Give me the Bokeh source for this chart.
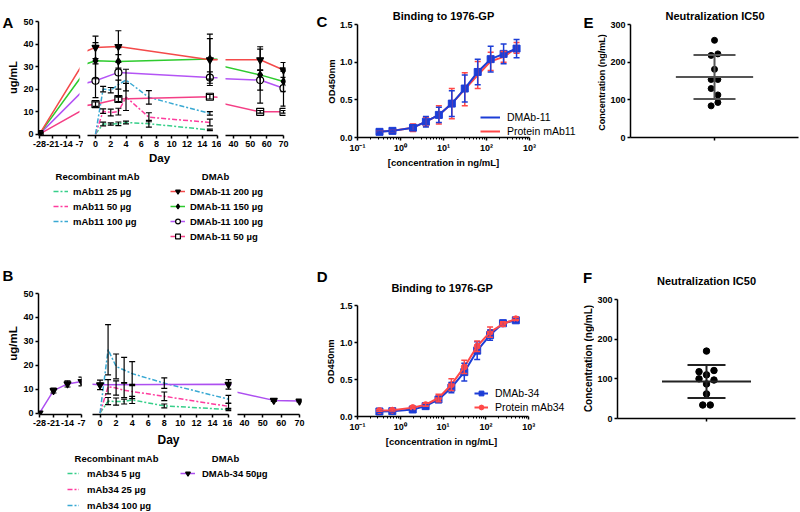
import numpy as np
from bokeh.plotting import figure
from bokeh.layouts import row, column
from bokeh.models import (Range1d, FixedTicker, Whisker, TeeHead, ColumnDataSource,
                          Label, Legend, LegendItem, NumeralTickFormatter)
from bokeh.embed import file_html
from bokeh.resources import INLINE

FONT = "Liberation Sans"

# ---------------- data ----------------
# Panel A : DMAb-11 / mAb11 (ug/mL vs day)
days_dmab11 = [-28, 0, 3, 15, 56, 70]
dmab11_200 = [0, 38.5, 38.9, 33.0, 33.0, 28.5]
dmab11_200_sd = [0, 5.0, 7.0, 11.4, 4.7, 3.3]
dmab11_150 = [0, 32.6, 32.3, 33.4, 26.3, 23.4]
dmab11_150_sd = [0, 8.0, 3.0, 9.0, 12.5, 4.5]
dmab11_100 = [0, 23.7, 27.4, 25.1, 24.0, 20.4]
dmab11_100_sd = [0, 7.5, 11.0, 2.5, 4.5, 8.0]
dmab11_50 = [0, 13.3, 15.6, 16.6, 9.9, 9.9]
dmab11_50_sd = [0, 1.0, 1.2, 1.0, 0.6, 0.6]

days_mab11 = [0, 1, 2, 3, 4, 7, 15]
mab11_25 = [0, 4.5, 4.5, 4.6, 5.2, 4.6, 1.9]
mab11_25_sd = [0, 0.8, 0.5, 0.8, 0.6, 1.5, 0.3]
mab11_50 = [0, 10.2, 9.6, 10.0, 16.5, 7.5, 5.2]
mab11_50_sd = [0, 1.0, 1.5, 1.5, 6.0, 2.0, 1.5]
mab11_100 = [0, 20.0, 19.5, 22.0, 24.0, 16.3, 9.2]
mab11_100_sd = [0, 1.2, 1.2, 2.0, 4.8, 3.0, 0.8]

# Panel B : DMAb-34 / mAb34
days_dmab34 = [-28, -21, -14, -7, 0, 16, 56, 70]
dmab34_50 = [0, 9.4, 12.2, 13.2, 11.8, 12.0, 5.3, 5.0]
dmab34_50_sd = [0, 1.0, 1.3, 1.8, 2.0, 2.0, 0.4, 0.3]

days_mab34 = [0, 1, 2, 3, 4, 8, 16]
mab34_5 = [0, 5.0, 4.8, 4.8, 5.5, 3.0, 1.5]
mab34_5_sd = [0, 1.5, 1.5, 1.0, 1.5, 0.8, 0.5]
mab34_25 = [0, 11.0, 10.5, 9.5, 9.0, 7.0, 2.8]
mab34_25_sd = [0, 3.0, 3.0, 3.0, 3.0, 1.8, 1.2]
mab34_100 = [0, 26.5, 19.5, 18.0, 16.5, 12.5, 5.8]
mab34_100_sd = [0, 10.5, 5.2, 5.3, 5.0, 2.2, 1.6]

# Panels C / D : binding ELISA (OD450nm vs ng/mL)
conc = [0.325, 0.65, 1.95, 3.9, 7.8, 15.6, 31.25, 62.5, 125, 250, 500]
c_dmab11 = [0.075, 0.088, 0.13, 0.21, 0.30, 0.45, 0.65, 0.87, 1.04, 1.11, 1.18]
c_dmab11_sd = [0.01, 0.01, 0.04, 0.07, 0.10, 0.17, 0.18, 0.17, 0.17, 0.13, 0.12]
c_mab11 = [0.08, 0.09, 0.13, 0.21, 0.30, 0.45, 0.64, 0.83, 1.01, 1.07, 1.19]
c_mab11_sd = [0.01, 0.01, 0.05, 0.06, 0.12, 0.20, 0.22, 0.18, 0.12, 0.07, 0.07]
d_dmab34 = [0.068, 0.072, 0.095, 0.14, 0.23, 0.39, 0.60, 0.89, 1.10, 1.26, 1.30]
d_dmab34_sd = [0.01, 0.01, 0.02, 0.02, 0.04, 0.07, 0.12, 0.12, 0.07, 0.04, 0.03]
d_mab34 = [0.08, 0.085, 0.12, 0.16, 0.25, 0.43, 0.67, 0.95, 1.14, 1.25, 1.32]
d_mab34_sd = [0.01, 0.01, 0.01, 0.02, 0.05, 0.08, 0.09, 0.07, 0.07, 0.03, 0.02]

# Panels E / F : neutralization IC50 (ng/mL)
ic50_e = [258, 222, 218, 181, 154, 154, 130, 113, 93, 84]
ic50_f = [170, 121, 118, 110, 100, 97, 87, 62, 34, 34]

# tick values / labels
ticks_pre = [-28, -21, -14, -7]
ticks_mid = [0, 2, 4, 6, 8, 10, 12, 14, 16]
ticks_late = [40, 50, 60, 70]
ticks_ug = [0, 10, 20, 30, 40, 50]
ticks_od = [0, 0.5, 1.0, 1.5]
ticks_conc = [0.1, 1, 10, 100, 1000]
conc_labels = ["10\u207b\u00b9", "10\u2070", "10\u00b9", "10\u00b2", "10\u00b3"]
ticks_ic50 = [0, 100, 200, 300]

# ---------------- colours ----------------
RED, GREEN, PURPLE, PINK = "#f44a4a", "#2ecb2e", "#b455f5", "#f43f86"
M_GREEN, M_PINK, M_CYAN = "#37cf8a", "#ff3c9e", "#39a9d3"
PURPLE_B = "#ad4ff0"
BLUE, CRED = "#1c3dd6", "#ff4848"
DASH = "5 2 2 2"


# ---------------- helpers ----------------
def frame_of(g):
    return (g["cx"] + g["bl"], g["cx"] + g["w"] - g["br"],
            g["cy"] + g["bt"], g["cy"] + g["h"] - g["bb"])


def to_data(g, xr, yr, rx, ry, xlog=False):
    fx0, fx1, fy0, fy1 = frame_of(g)
    t = (rx - fx0) / (fx1 - fx0)
    u = (fy1 - ry) / (fy1 - fy0)
    if xlog:
        a, b = np.log10(xr[0]), np.log10(xr[1])
        dx = 10 ** (a + t * (b - a))
    else:
        dx = xr[0] + t * (xr[1] - xr[0])
    dy = yr[0] + u * (yr[1] - yr[0])
    return float(dx), float(dy)


def y_top(g, ymax, px_of_max):
    """extend a y range upward so that ymax sits at the given page pixel row"""
    fx0, fx1, fy0, fy1 = frame_of(g)
    return ymax * (fy1 - fy0) / (fy1 - px_of_max)


def new_fig(g, xr, yr, xlog=False, xaxis=True, yaxis=True, tick_size="9px"):
    p = figure(width=g["w"], height=g["h"], x_range=Range1d(*xr), y_range=Range1d(*yr),
               x_axis_type="log" if xlog else "linear",
               x_axis_location="below" if xaxis else None,
               y_axis_location="left" if yaxis else None,
               min_border_left=g["bl"], min_border_right=g["br"],
               min_border_top=g["bt"], min_border_bottom=g["bb"],
               output_backend="svg", toolbar_location=None)
    p.outline_line_color = None
    p.xgrid.grid_line_color = None
    p.ygrid.grid_line_color = None
    p.border_fill_color = "white"
    p.background_fill_color = "white"
    for ax in p.axis:
        ax.axis_line_color = "black"
        ax.axis_line_width = 1.5
        ax.major_tick_line_color = "black"
        ax.major_tick_line_width = 1.5
        ax.major_tick_out = 3
        ax.major_tick_in = 0
        ax.minor_tick_line_color = "black"
        ax.minor_tick_line_width = 1
        ax.minor_tick_out = 2
        ax.minor_tick_in = 0
        ax.major_label_text_font = FONT
        ax.major_label_text_font_size = tick_size
        ax.major_label_text_font_style = "bold"
        ax.major_label_text_color = "black"
        ax.major_label_standoff = 2
    return p


def text_fig(cx, cy, w, h):
    g = dict(cx=cx, cy=cy, w=w, h=h, bl=0, br=0, bt=0, bb=0)
    xr, yr = (1000, 1000 + w), (1000, 1000 + h)
    p = new_fig(g, xr, yr, xaxis=False, yaxis=False)
    p.min_border = 0
    return p, g, xr, yr


def solo(p):
    # wrap a figure so that its borders are not aligned with its row neighbours
    return column(p)


def txt(p, g, xr, yr, rx, ry, text, size, style="bold", angle=0.0, align="center", xlog=False):
    dx, dy = to_data(g, xr, yr, rx, ry, xlog)
    p.add_layout(Label(x=dx, y=dy, text=text, text_font=FONT, text_font_size=size,
                       text_font_style=style, text_align=align, text_baseline="middle",
                       angle=angle, text_color="black"))


def whiskers(p, xs, vals, sds, color, head, xr=None, width=1.2):
    sel = [i for i, x in enumerate(xs) if sds[i] > 0 and (xr is None or xr[0] <= x <= xr[1])]
    if not sel:
        return
    src = ColumnDataSource(dict(base=[xs[i] for i in sel],
                                upper=[vals[i] + sds[i] for i in sel],
                                lower=[vals[i] - sds[i] for i in sel]))
    p.add_layout(Whisker(source=src, base="base", upper="upper", lower="lower",
                         dimension="height", line_color=color, line_width=width,
                         upper_head=TeeHead(size=head, line_color=color, line_width=width),
                         lower_head=TeeHead(size=head, line_color=color, line_width=width),
                         level="annotation"))


def make_legend(items, loc, size="9.5px", style="bold", gw=15, spacing=3, standoff=5):
    lg = Legend(items=items, location=loc)
    lg.label_text_font = FONT
    lg.label_text_font_size = size
    lg.label_text_font_style = style
    lg.label_text_color = "black"
    lg.glyph_width = gw
    lg.glyph_height = 12
    lg.label_height = 12
    lg.label_width = 10
    lg.spacing = spacing
    lg.label_standoff = standoff
    lg.padding = 0
    lg.margin = 0
    lg.border_line_color = None
    lg.background_fill_alpha = 0
    return lg


def draw_timecourse(p, xr, mab_days, mab_list, dmab_days, dmab_list):
    for vals, sds, color in mab_list:
        p.line(mab_days, vals, line_color=color, line_width=1.5, line_dash=DASH)
    for vals, sds, color, marker, fill, size in dmab_list:
        p.line(dmab_days, vals, line_color=color, line_width=1.5)
    for vals, sds, color, marker, fill, size in dmab_list:
        p.scatter(dmab_days, vals, marker=marker, size=size, line_color="black",
                  fill_color=fill, line_width=1.2)
    for vals, sds, color in mab_list:
        whiskers(p, mab_days, vals, sds, "black", 6, xr)
    for vals, sds, color, marker, fill, size in dmab_list:
        whiskers(p, dmab_days, vals, sds, "black", 6, xr)


def legend_block(p, mab_days, mab_list, mab_labels, dmab_days, dmab_list, dmab_labels,
                 loc_l, loc_r, gw_l, st_l, st_r, sp):
    # renderers hold the real series; the legend figure's ranges keep them out of view
    items_l = []
    for lab, (vals, sds, color) in zip(mab_labels, mab_list):
        r = p.line(mab_days, vals, line_color=color, line_width=1.5, line_dash=DASH)
        items_l.append(LegendItem(label=lab, renderers=[r]))
    items_r = []
    for lab, (vals, sds, color, marker, fill, size) in zip(dmab_labels, dmab_list):
        r1 = p.line(dmab_days, vals, line_color=color, line_width=1.5)
        r2 = p.scatter(dmab_days, vals, marker=marker, size=size, line_color="black",
                       fill_color=fill, line_width=1.2)
        items_r.append(LegendItem(label=lab, renderers=[r1, r2]))
    p.add_layout(make_legend(items_l, loc_l, gw=gw_l, standoff=st_l, spacing=sp))
    p.add_layout(make_legend(items_r, loc_r, standoff=st_r, spacing=sp))


# ================= Panel A =================
yrA = (-0.6, 50)
gA1 = dict(cx=20, cy=0, w=63, h=152, bl=15, br=4, bt=21, bb=17)
gA2 = dict(cx=83, cy=0, w=138, h=152, bl=4, br=4, bt=21, bb=17)
gA3 = dict(cx=221, cy=0, w=79, h=152, bl=4, br=15, bt=21, bb=17)
xrA1, xrA2, xrA3 = (-28.5, -7), (-1.05, 16), (35.2, 71.2)

mabA = [(mab11_25, mab11_25_sd, M_GREEN), (mab11_50, mab11_50_sd, M_PINK),
        (mab11_100, mab11_100_sd, M_CYAN)]
dmabA = [(dmab11_50, dmab11_50_sd, PINK, "square", "white", 7),
         (dmab11_100, dmab11_100_sd, PURPLE, "circle", "white", 7),
         (dmab11_150, dmab11_150_sd, GREEN, "diamond", "black", 7),
         (dmab11_200, dmab11_200_sd, RED, "inverted_triangle", "black", 7)]

pA1 = new_fig(gA1, xrA1, yrA)
pA2 = new_fig(gA2, xrA2, yrA, yaxis=False)
pA3 = new_fig(gA3, xrA3, yrA, yaxis=False)
for p, xr, tk in [(pA1, xrA1, ticks_pre), (pA2, xrA2, ticks_mid), (pA3, xrA3, ticks_late)]:
    draw_timecourse(p, xr, days_mab11, mabA, days_dmab11, dmabA)
    p.xaxis.ticker = FixedTicker(ticks=tk)
    p.xaxis.major_label_overrides = {t: str(t) for t in tk}
pA1.xaxis.bounds = (-28, -7)
pA3.xaxis.bounds = (35.2, 70)
pA1.yaxis.ticker = FixedTicker(ticks=ticks_ug)
pA1.yaxis.bounds = (0, 50)

sA, gsA, xsA, ysA = text_fig(0, 0, 20, 152)
txt(sA, gsA, xsA, ysA, 2, 22, "A", "15px", align="left")
txt(sA, gsA, xsA, ysA, 12, 77, "ug/mL", "11px", angle=np.pi / 2)

legA, glA, xlA, ylA = text_fig(0, 152, 300, 108)
txt(legA, glA, xlA, ylA, 159, 157, "Day", "11.5px")
txt(legA, glA, xlA, ylA, 97, 176, "Recombinant mAb", "9.5px")
txt(legA, glA, xlA, ylA, 215, 176, "DMAb", "9.5px")
legend_block(legA, days_mab11, mabA, ["mAb11 25 \u00b5g", "mAb11 50 \u00b5g", "mAb11 100 \u00b5g"],
             days_dmab11, dmabA[::-1],
             ["DMAb-11 200 \u00b5g", "DMAb-11 150 \u00b5g", "DMAb-11 100 \u00b5g", "DMAb-11 50 \u00b5g"],
             (53, 33), (170, 18), 15, 5, 5, 3)

# ================= Panel B =================
yrB = (-0.6, 50)
gB1 = dict(cx=20, cy=260, w=66, h=171, bl=15, br=5, bt=33, bb=17)
gB2 = dict(cx=86, cy=260, w=146, h=171, bl=6, br=1, bt=33, bb=17)
gB3 = dict(cx=232, cy=260, w=74, h=171, bl=5, br=5, bt=33, bb=17)
xrB1, xrB2, xrB3 = (-28.5, -7), (-0.94, 16.37), (36.2, 71.1)

mabB = [(mab34_5, mab34_5_sd, M_GREEN), (mab34_25, mab34_25_sd, M_PINK),
        (mab34_100, mab34_100_sd, M_CYAN)]
dmabB = [(dmab34_50, dmab34_50_sd, PURPLE_B, "inverted_triangle", "black", 7)]

pB1 = new_fig(gB1, xrB1, yrB)
pB2 = new_fig(gB2, xrB2, yrB, yaxis=False)
pB3 = new_fig(gB3, xrB3, yrB, yaxis=False)
for p, xr, tk in [(pB1, xrB1, ticks_pre), (pB2, xrB2, ticks_mid), (pB3, xrB3, ticks_late)]:
    draw_timecourse(p, xr, days_mab34, mabB, days_dmab34, dmabB)
    p.xaxis.ticker = FixedTicker(ticks=tk)
    p.xaxis.major_label_overrides = {t: str(t) for t in tk}
pB1.xaxis.bounds = (-28, -7)
pB2.xaxis.bounds = (-0.94, 16)
pB3.xaxis.bounds = (36.2, 70)
pB1.yaxis.ticker = FixedTicker(ticks=ticks_ug)
pB1.yaxis.bounds = (0, 50)

sB, gsB, xsB, ysB = text_fig(0, 260, 20, 171)
txt(sB, gsB, xsB, ysB, 2, 275, "B", "15px", align="left")
txt(sB, gsB, xsB, ysB, 12, 343, "ug/mL", "11.5px", angle=np.pi / 2)

legB, glB, xlB, ylB = text_fig(0, 431, 306, 81)
txt(legB, glB, xlB, ylB, 168, 439, "Day", "12px")
txt(legB, glB, xlB, ylB, 116, 458, "Recombinant mAb", "9.5px")
txt(legB, glB, xlB, ylB, 225, 458, "DMAb", "9.5px")
legend_block(legB, days_mab34, mabB, ["mAb34 5 \u00b5g", "mAb34 25 \u00b5g", "mAb34 100 \u00b5g"],
             days_dmab34, dmabB, ["DMAb-34 50\u00b5g"],
             (67, 1), (180, 33), 12, 8, 7, 4)


# ================= Panels C / D =================
def binding_panel(g, top_px, first, first_sd, second, second_sd, labels, leg_loc, gw,
                  second_marker, blue_on_top, legend_markers):
    fx0, fx1, fy0, fy1 = frame_of(g)
    xr = (0.1, 10 ** (-1 + (fx1 - fx0) / 43.0))
    yr = (0, y_top(g, 1.5, top_px))
    p = new_fig(g, xr, yr, xlog=True)
    p.xaxis.ticker = FixedTicker(ticks=ticks_conc,
                                 minor_ticks=[k * 10.0 ** e for e in range(-1, 3) for k in range(2, 10)])
    p.xaxis.major_label_overrides = {t: s for t, s in zip(ticks_conc, conc_labels)}
    p.xaxis.bounds = (0.1, 1000.01)
    p.yaxis.ticker = FixedTicker(ticks=ticks_od)
    p.yaxis.formatter = NumeralTickFormatter(format="0.0")
    p.yaxis.bounds = (0, 1.5001)
    series = {0: (first, first_sd, BLUE, ("square", 7)), 1: (second, second_sd, CRED, second_marker)}
    order = [1, 0] if blue_on_top else [0, 1]
    rends = {}
    for i in order:
        vals, sds, col, mk = series[i]
        lr = p.line(conc, vals, line_color=col, line_width=2)
        rs = [lr]
        if mk is not None:
            sr = p.scatter(conc, vals, marker=mk[0], size=mk[1], color=col)
            if legend_markers:
                rs.append(sr)
        whiskers(p, conc, vals, sds, col, 6, None, width=1.5)
        rends[i] = rs
    items = [LegendItem(label=labels[0], renderers=rends[0]),
             LegendItem(label=labels[1], renderers=rends[1])]
    p.add_layout(make_legend(items, leg_loc, size="10.5px", style="normal", gw=gw, spacing=2, standoff=7))
    return p, xr, yr


gC = dict(cx=336, cy=0, w=244, h=157, bl=21, br=2, bt=0, bb=20)
pC, xrC, yrC = binding_panel(gC, 24, c_dmab11, c_dmab11_sd, c_mab11, c_mab11_sd,
                             ["DMAb-11", "Protein mAb11"], (123, 0), 20, None, True, False)
txt(pC, gC, xrC, yrC, 443, 15, "Binding to 1976-GP", "11px", xlog=True)
sC, gsC, xsC, ysC = text_fig(300, 0, 36, 260)
txt(sC, gsC, xsC, ysC, 321.5, 21, "C", "15px")
txt(sC, gsC, xsC, ysC, 330.5, 81, "OD450nm", "9.5px", angle=np.pi / 2)
bC, gbC, xbC, ybC = text_fig(336, 157, 244, 103)
txt(bC, gbC, xbC, ybC, 443, 162, "[concentration in ng/mL]", "9.5px")

gD = dict(cx=336, cy=260, w=244, h=175, bl=20, br=2, bt=0, bb=19)
pD, xrD, yrD = binding_panel(gD, 305, d_dmab34, d_dmab34_sd, d_mab34, d_mab34_sd,
                             ["DMAb-34", "Protein mAb34"], (117, 3), 14, ("circle", 6), False, True)
txt(pD, gD, xrD, yrD, 441, 287, "Binding to 1976-GP", "11px", xlog=True)
sD, gsD, xsD, ysD = text_fig(306, 260, 30, 252)
txt(sD, gsD, xsD, ysD, 321.7, 276, "D", "15px")
txt(sD, gsD, xsD, ysD, 330, 361, "OD450nm", "9.5px", angle=np.pi / 2)
bD, gbD, xbD, ybD = text_fig(336, 435, 244, 77)
txt(bD, gbD, xbD, ybD, 441, 441, "[concentration in ng/mL]", "9.5px")

# ================= Panels E / F =================
e_offsets = [0, 1, -1, 0, -1, 1, -1, 1, 1, -1]
f_offsets = [0, 2, -2, 0, -2, 2, 0, 0, -1, 1]


def ic50_panel(g, top_px, vals, offsets, step, line_col, mean_half, cap, dot, title_pos):
    xr = (0, 2)
    yr = (0, y_top(g, 300, top_px))
    p = new_fig(g, xr, yr)
    p.yaxis.ticker = FixedTicker(ticks=ticks_ic50)
    p.yaxis.bounds = (0, 300.01)
    p.xaxis.ticker = FixedTicker(ticks=[1])
    p.xaxis.major_label_overrides = {1: ""}
    p.scatter([1 + o * step for o in offsets], vals, size=dot, color="black")
    m = float(np.mean(vals))
    s = float(np.std(vals, ddof=1))
    p.segment(x0=[1 - mean_half], y0=[m], x1=[1 + mean_half], y1=[m], line_color=line_col, line_width=2)
    src = ColumnDataSource(dict(base=[1], upper=[m + s], lower=[m - s]))
    p.add_layout(Whisker(source=src, base="base", upper="upper", lower="lower", dimension="height",
                         line_color=line_col, line_width=2, level="annotation",
                         upper_head=TeeHead(size=cap, line_color=line_col, line_width=2),
                         lower_head=TeeHead(size=cap, line_color=line_col, line_width=2)))
    txt(p, g, xr, yr, title_pos[0], title_pos[1], "Neutralization IC50", "11px")
    return p


gE = dict(cx=607, cy=0, w=193, h=260, bl=20, br=2, bt=0, bb=123)
pE = ic50_panel(gE, 24, ic50_e, e_offsets, 0.04, "#555555", 0.46, 42, 6, (713, 15))
sE, gsE, xsE, ysE = text_fig(580, 0, 27, 260)
txt(sE, gsE, xsE, ysE, 588, 22, "E", "15px")
txt(sE, gsE, xsE, ysE, 601.5, 82, "Concentration (ng/mL)", "9px", angle=np.pi / 2)

gF = dict(cx=594, cy=260, w=206, h=252, bl=21, br=5, bt=0, bb=94)
pF = ic50_panel(gF, 299, ic50_f, f_offsets, 0.042, "#222222", 0.5, 38, 6.5, (705, 280))
sF, gsF, xsF, ysF = text_fig(580, 260, 14, 252)
txt(sF, gsF, xsF, ysF, 587, 277, "F", "15px")
txt(sF, gsF, xsF, ysF, 588, 358, "Concentration (ng/mL)", "10px", angle=np.pi / 2)

# ================= layout =================
blockA = column(row(solo(sA), pA1, pA2, pA3), solo(legA))
blockB = column(row(solo(sB), pB1, pB2, pB3), solo(legB))
top = row(blockA, solo(sC), column(solo(pC), solo(bC)), solo(sE), solo(pE))
bottom = row(blockB, solo(sD), column(solo(pD), solo(bD)), solo(sF), solo(pF))
layout = column(top, bottom)

open("out.html", "w").write(file_html(layout, INLINE))
